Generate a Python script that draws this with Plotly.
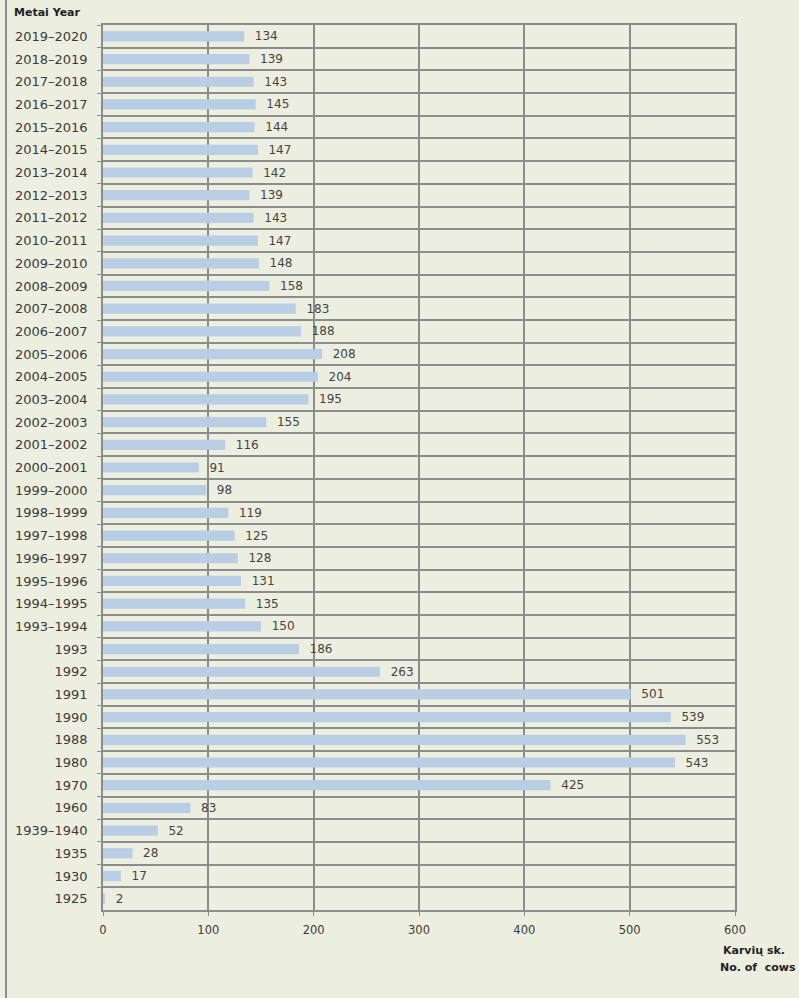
import plotly.graph_objects as go

years = ["2019–2020", "2018–2019", "2017–2018", "2016–2017", "2015–2016", "2014–2015",
         "2013–2014", "2012–2013", "2011–2012", "2010–2011", "2009–2010", "2008–2009",
         "2007–2008", "2006–2007", "2005–2006", "2004–2005", "2003–2004", "2002–2003",
         "2001–2002", "2000–2001", "1999–2000", "1998–1999", "1997–1998", "1996–1997",
         "1995–1996", "1994–1995", "1993–1994", "1993", "1992", "1991", "1990", "1988",
         "1980", "1970", "1960", "1939–1940", "1935", "1930", "1925"]
cows = [134, 139, 143, 145, 144, 147, 142, 139, 143, 147, 148, 158, 183, 188, 208, 204,
        195, 155, 116, 91, 98, 119, 125, 128, 131, 135, 150, 186, 263, 501, 539, 553,
        543, 425, 83, 52, 28, 17, 2]
x_ticks = [0, 100, 200, 300, 400, 500, 600]

bg = "#ECEFDF"
grid = "#8C8C8C"
txt = "#3A3A3A"
font = "DejaVu Sans"

L, R, T, B = 103, 735, 25, 910
W, H = 799, 998
PW, PH = R - L, B - T


def px(x):
    return (x - L) / PW


def py(y):
    return (B - y) / PH


fig = go.Figure(go.Bar(
    x=cows, y=years, orientation="h",
    marker=dict(color="#B9CDE5", line=dict(width=0)),
    text=["  " + str(v) for v in cows], textposition="outside",
    constraintext="none",
    textfont=dict(family=font, size=12, color="#444444"),
    cliponaxis=False,
))

fig.update_layout(
    width=W, height=H,
    margin=dict(l=L, r=W - R, t=T, b=H - B),
    paper_bgcolor=bg, plot_bgcolor=bg,
    bargap=0.55, showlegend=False,
    font=dict(family=font, size=11, color=txt),
    xaxis=dict(range=[0, 600], tickvals=x_ticks, ticks="outside", ticklen=4,
               tickcolor=grid, showgrid=True, gridcolor=grid, gridwidth=1.5,
               showline=True, linecolor=grid, linewidth=1.5, mirror=True,
               zeroline=False, ticklabelstandoff=4,
               tickfont=dict(family=font, size=11.5, color=txt)),
    yaxis=dict(autorange="reversed", type="category", tickson="boundaries",
               ticks="outside", ticklen=4, tickcolor=grid,
               showgrid=True, gridcolor=grid, gridwidth=1.5,
               showline=True, linecolor=grid, linewidth=1.5, mirror=True,
               ticklabelstandoff=11,
               tickfont=dict(family=font, size=13, color=txt)),
    annotations=[
        dict(text="<b>Metai Year</b>", xref="paper", yref="paper",
             x=px(12), y=py(13), xanchor="left", yanchor="middle",
             showarrow=False, font=dict(family=font, size=11, color="#222222")),
        dict(text="<b>Karvių sk.</b>", xref="paper", yref="paper",
             x=px(754), y=py(950), xanchor="center", yanchor="middle",
             showarrow=False, font=dict(family=font, size=11, color="#222222")),
        dict(text="<b>No. of  cows</b>", xref="paper", yref="paper",
             x=px(798), y=py(967), xanchor="right", yanchor="middle",
             showarrow=False, font=dict(family=font, size=11, color="#222222")),
    ],
    shapes=[
        dict(type="line", xref="paper", yref="paper",
             x0=px(6), x1=px(6), y0=py(0), y1=py(H),
             line=dict(color="#8C8C8C", width=2)),
    ],
)

fig.write_html(
    "out.html",
    config={"displayModeBar": False},
    post_script="document.body.style.margin='0';document.body.style.background='%s';"
                "document.body.style.overflow='hidden';" % bg,
)
